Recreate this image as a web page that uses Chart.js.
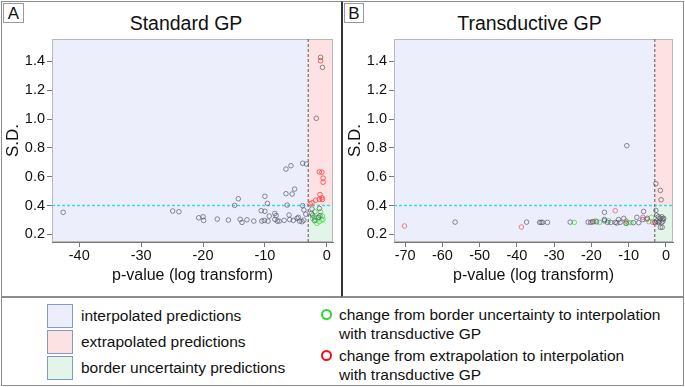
<!DOCTYPE html>
<html>
<head>
<meta charset="utf-8">
<script src="https://cdn.jsdelivr.net/npm/chart.js@4.4.1/dist/chart.umd.min.js"></script>
<style>
  body { margin: 0; width: 685px; height: 387px; background: #fff; position: relative; overflow: hidden;
         font-family: "Liberation Sans", Arial, sans-serif; color: #111; }
  .abs { position: absolute; box-sizing: border-box; }
  .box { border: 1.5px solid #8c8c8c; }
  .tag { border: 1px solid #9a9a9a; font-size: 17px; text-align: center; line-height: 19px; background: #fff; }
  .ptitle { font-size: 19.5px; text-align: center; line-height: 24px; white-space: nowrap; }
  .sq { width: 26px; height: 24px; border: 1.5px solid #8198c8; }
  .lt { font-size: 15.5px; line-height: 20px; white-space: nowrap; }
  .rt { font-size: 15.5px; line-height: 19px; white-space: nowrap; }
  .ring { width: 11px; height: 11px; border-radius: 50%; border: 2.5px solid; }
  canvas { position: absolute; }
</style>
</head>
<body>
<div class="abs box" style="left:1px;top:1px;width:341px;height:296px"></div>
<div class="abs box" style="left:341px;top:1px;width:343px;height:296px;border-left:2.5px solid #333"></div>
<div class="abs box" style="left:1px;top:297px;width:683px;height:89px"></div>
<div class="abs tag" style="left:3px;top:3px;width:21px;height:20px">A</div>
<div class="abs tag" style="left:344px;top:3px;width:20px;height:20px">B</div>
<div class="abs ptitle" style="left:0px;top:11px;width:372px">Standard GP</div>
<div class="abs ptitle" style="left:400px;top:11px;width:259px">Transductive GP</div>

<canvas id="chartA" width="337" height="292" style="left:3px;top:3px"></canvas>
<canvas id="chartB" width="337" height="292" style="left:345px;top:3px"></canvas>

<!-- legend -->
<div class="abs sq" style="left:47px;top:304px;background:#eceefb"></div>
<div class="abs sq" style="left:47px;top:330px;background:#fde2e3"></div>
<div class="abs sq" style="left:47px;top:356px;background:#e3f4e8"></div>
<div class="abs lt" style="left:81px;top:306px">interpolated predictions</div>
<div class="abs lt" style="left:81px;top:332px">extrapolated predictions</div>
<div class="abs lt" style="left:81px;top:358px">border uncertainty predictions</div>
<div class="abs ring" style="left:321px;top:309px;border-color:#2fd62f"></div>
<div class="abs ring" style="left:321px;top:350px;border-color:#ee1111"></div>
<div class="abs rt" style="left:339px;top:305px">change from border uncertainty to interpolation<br>with transductive GP</div>
<div class="abs rt" style="left:339px;top:346px">change from extrapolation to interpolation<br>with transductive GP</div>

<script>
// shared axes
const yTicks = [0.2, 0.4, 0.6, 0.8, 1.0, 1.2, 1.4];
const yRange = [0.147, 1.555];
const pCutoff = -3;     // log(0.05)
const sdCutoff = 0.4;

// panel A: standard GP
const aTicks = [-40, -30, -20, -10, 0];
const aRange = [-44.4, 1.0];
const aGrayX = [-42.6, -24.9, -23.9, -20.7, -20.0, -19.9, -17.7, -15.9, -14.9, -14.3, -14.0, -13.7, -12.9, -11.8,
  -10.6, -10.0, -10.0, -9.6, -10.5, -10.1, -9.5, -9.3, -8.4, -8.2, -8.4, -8.0, -7.7, -6.6, -6.6, -5.8, -5.6, -5.2,
  -6.4, -6.9, -6.1, -6.0, -5.4, -4.8, -4.6, -4.4, -4.0, -3.7, -3.9, -3.7, -3.4, -3.9, -3.3,
  -2.4, -2.5, -2.3, -2.0, -1.2, -1.1, -1.3, -1.0, -0.7, -1.7];
const aGrayY = [0.353, 0.362, 0.357, 0.315, 0.322, 0.297, 0.306, 0.299, 0.401, 0.447, 0.304, 0.283, 0.301, 0.292,
  0.364, 0.360, 0.464, 0.415, 0.292, 0.297, 0.292, 0.327, 0.345, 0.330, 0.304, 0.292, 0.292, 0.482, 0.653, 0.676, 0.480, 0.514,
  0.403, 0.297, 0.334, 0.302, 0.297, 0.311, 0.318, 0.292, 0.288, 0.299, 0.399, 0.369, 0.340, 0.693, 0.688,
  0.376, 0.345, 0.333, 0.295, 0.380, 0.330, 0.318, 1.428, 1.358, 1.005];
const aRedX = [-2.7, -2.4, -1.8, -1.2, -0.8, -1.1, -0.7, -1.2, -0.8, -0.6, -0.6, -1.0];
const aRedY = [0.412, 0.419, 0.437, 0.444, 0.453, 0.476, 0.442, 0.633, 0.631, 0.590, 0.562, 1.404];
const aGreenX = [-2.3, -2.0, -1.8, -1.6, -1.2, -0.8, -0.7, -1.0, -1.5, -0.6, -1.9];
const aGreenY = [0.311, 0.318, 0.299, 0.276, 0.288, 0.299, 0.327, 0.357, 0.318, 0.304, 0.357];

// panel B: transductive GP
const bTicks = [-70, -60, -50, -40, -30, -20, -10, 0];
const bRange = [-73.0, 1.9];
const bGrayX = [-56.6, -37.4, -33.9, -33.5, -33.1, -31.8, -25.7, -20.9, -20.2, -19.7, -18.6, -16.5, -16.5, -16.5,
  -15.7, -14.8, -13.6, -13.2, -12.7, -12.3, -11.3, -10.7, -10.5, -8.7, -7.8, -7.3, -6.0, -6.2, -5.0, -3.0,
  -2.7, -1.5, -1.3, -2.7, -2.5, -2.0, -1.5, -1.1, -0.8, -2.5, -1.8, -1.1, -0.8, -1.5, -1.0, -2.0, -0.6];
const bGrayY = [0.285, 0.285, 0.283, 0.283, 0.283, 0.283, 0.285, 0.285, 0.283, 0.287, 0.287, 0.294, 0.303, 0.353,
  0.283, 0.283, 0.283, 0.279, 0.303, 0.283, 0.311, 0.277, 0.815, 0.281, 0.318, 0.281, 0.359, 0.303, 0.311, 0.285,
  0.551, 0.505, 0.440, 0.366, 0.333, 0.322, 0.311, 0.322, 0.306, 0.292, 0.288, 0.283, 0.292, 0.249, 0.249, 0.283, 0.311];
const bRedX = [-70.2, -38.8, -19.4, -13.6, -10.7, -6.2, -5.1, -3.5, -2.8];
const bRedY = [0.258, 0.251, 0.287, 0.364, 0.292, 0.318, 0.303, 0.283, 0.280];
const bGreenX = [-24.6, -18.9, -17.8, -15.4, -10.7, -10.1, -9.4, -4.6, -3.9];
const bGreenY = [0.283, 0.294, 0.283, 0.294, 0.277, 0.281, 0.281, 0.288, 0.318];

const zip = (xs, ys) => xs.map((x, i) => ({ x: x, y: ys[i] }));

// shaded regions behind the points
const regions = {
  id: 'regions',
  beforeDatasetsDraw(chart) {
    const { ctx, chartArea: ca, scales } = chart;
    const xc = scales.x.getPixelForValue(pCutoff);
    const yc = scales.y.getPixelForValue(sdCutoff);
    ctx.save();
    ctx.fillStyle = '#eceefb';
    ctx.fillRect(ca.left, ca.top, xc - ca.left, ca.bottom - ca.top);
    ctx.fillStyle = '#fee1e2';
    ctx.fillRect(xc, ca.top, ca.right - xc, yc - ca.top);
    ctx.fillStyle = '#e3f4e8';
    ctx.fillRect(xc, yc, ca.right - xc, ca.bottom - yc);
    ctx.strokeStyle = '#b8b8b8';
    ctx.lineWidth = 1;
    ctx.strokeRect(ca.left + 0.5, ca.top + 0.5, ca.right - ca.left - 1, ca.bottom - ca.top - 1);
    ctx.restore();
  }
};

function makePanel(id, padRight, xRange, xTicks, grayX, grayY, redX, redY, greenX, greenY, redColor) {
  const pts = (data, color) => ({
    type: 'scatter', data: data, order: 1,
    pointStyle: 'circle', pointRadius: 2.3, pointBorderWidth: 1,
    pointBackgroundColor: 'rgba(0,0,0,0)', pointBorderColor: color
  });
  const line = (data, color, dash, width) => ({
    type: 'line', data: data, order: 2, borderColor: color, borderWidth: width,
    borderDash: dash, pointRadius: 0, fill: false
  });
  new Chart(document.getElementById(id), {
    data: {
      datasets: [
        line([{ x: pCutoff, y: yRange[0] }, { x: pCutoff, y: yRange[1] }], '#707070', [3, 2], 1.2),
        line([{ x: xRange[0], y: sdCutoff }, { x: xRange[1], y: sdCutoff }], '#3cd6f0', [3, 2], 1.5),
        pts(zip(grayX, grayY), 'rgba(80,80,100,0.65)'),
        pts(zip(redX, redY), redColor),
        pts(zip(greenX, greenY), 'rgba(70,230,70,0.8)')
      ]
    },
    options: {
      responsive: false,
      animation: false,
      layout: { padding: { top: 36, right: padRight, left: 0, bottom: 0 } },
      plugins: { legend: { display: false }, tooltip: { enabled: false } },
      scales: {
        x: {
          type: 'linear', min: xRange[0], max: xRange[1],
          afterFit: s => { s.height = 53; },
          afterBuildTicks: s => { s.ticks = xTicks.map(v => ({ value: v })); },
          ticks: { color: '#111', font: { size: 14.5, family: '"Liberation Sans", Arial' }, padding: 0, maxRotation: 0,
                   callback: v => String(v) },
          grid: { drawOnChartArea: false, drawTicks: true, tickLength: 5, color: '#777' },
          border: { color: '#777' },
          title: { display: true, text: 'p-value (log transform)', color: '#111',
                   font: { size: 16, family: '"Liberation Sans", Arial' }, padding: { top: 0, bottom: 10 } }
        },
        y: {
          type: 'linear', min: yRange[0], max: yRange[1],
          afterFit: s => { s.width = 49; },
          afterBuildTicks: s => { s.ticks = yTicks.map(v => ({ value: v })); },
          ticks: { color: '#111', font: { size: 14.5, family: '"Liberation Sans", Arial' }, padding: 2,
                   callback: v => v.toFixed(1) },
          grid: { drawOnChartArea: false, drawTicks: true, tickLength: 5, color: '#777' },
          border: { color: '#777' },
          title: { display: true, text: 'S.D.', color: '#111',
                   font: { size: 17, family: '"Liberation Sans", Arial' }, padding: 0 }
        }
      }
    },
    plugins: [regions]
  });
}

makePanel('chartA', 7, aRange, aTicks, aGrayX, aGrayY, aRedX, aRedY, aGreenX, aGreenY, 'rgba(255,70,70,0.85)');
makePanel('chartB', 9, bRange, bTicks, bGrayX, bGrayY, bRedX, bRedY, bGreenX, bGreenY, 'rgba(235,80,95,0.7)');
</script>
</body>
</html>
